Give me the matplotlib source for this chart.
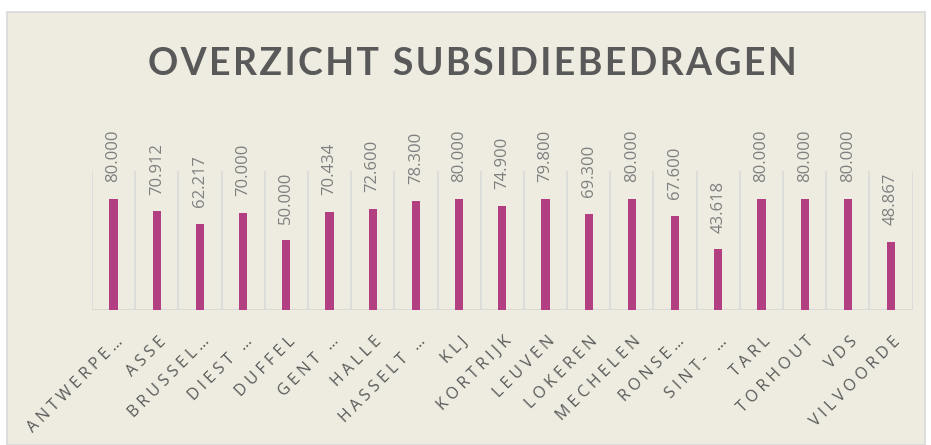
import matplotlib
matplotlib.use('Agg')
import matplotlib.pyplot as plt
from matplotlib.patches import Rectangle
from matplotlib import transforms

# data
categories = ['ANTWERPE…', 'ASSE', 'BRUSSEL…', 'DIEST …', 'DUFFEL', 'GENT …',
              'HALLE', 'HASSELT …', 'KLJ', 'KORTRIJK', 'LEUVEN', 'LOKEREN',
              'MECHELEN', 'RONSE…', 'SINT- …', 'TARL', 'TORHOUT', 'VDS', 'VILVOORDE']
bedragen = [80000, 70912, 62217, 70000, 50000, 70434, 72600, 78300, 80000, 74900,
            79800, 69300, 80000, 67600, 43618, 80000, 80000, 80000, 48867]
y_max = 100000

BG = '#EEECE1'
BAR = '#B13F82'
GRID = '#D9D9D9'
plt.rcParams['font.family'] = ['Open Sans', 'DejaVu Sans']


def spaced(s, sep='\u200a'):
    # letter spacing zoals in de Excel-grafiek
    return sep.join(s)


def nl_fmt(v):
    return f'{v:,.0f}'.replace(',', '.')


W, H = 931, 445
fig = plt.figure(figsize=(W / 100, H / 100), dpi=100, facecolor='white')
panel = Rectangle((7 / W, 0), 918 / W, (H - 12) / H, transform=fig.transFigure,
                  facecolor=BG, edgecolor=GRID, lw=1.2, zorder=-10)
fig.add_artist(panel)

ax = fig.add_axes([92 / W, (H - 310) / H, 820.6 / W, 139 / H])
ax.set_facecolor('none')
ax.set_zorder(5)
x = list(range(len(categories)))
ax.bar(x, bedragen, width=0.19, color=BAR, zorder=3)
ax.vlines([i - 0.5 for i in range(len(categories) + 1)], 0, y_max, colors=GRID, lw=1.2, zorder=1)
ax.axhline(0, color=GRID, lw=1.5, zorder=2)
ax.set_xlim(-0.5, len(categories) - 0.5)
ax.set_ylim(0, y_max)
for s in ax.spines.values():
    s.set_visible(False)
ax.set_yticks([])
ax.set_xticks([])

# data labels
off = transforms.offset_copy(ax.transData, fig=fig, x=0, y=12, units='points')
for i, v in enumerate(bedragen):
    ax.text(i, v, nl_fmt(v), transform=off, rotation=90, ha='center', va='bottom',
            fontsize=12, color='#7F7F7F', clip_on=False)

# category labels
t = transforms.offset_copy(ax.get_xaxis_transform(), fig=fig, x=5, y=-21, units='points')
for i, c in enumerate(categories):
    ax.text(i, 0, spaced(c, ' '), transform=t, rotation=45, rotation_mode='anchor',
            ha='right', va='center', fontsize=11.5, color='#595959', clip_on=False)

fig.text(472 / W, 1 - 75 / H, spaced('OVERZICHT SUBSIDIEBEDRAGEN'), ha='center', va='baseline',
         fontsize=27, fontweight='bold', color='#595959', family=['Lato', 'DejaVu Sans'])

fig.savefig('out.png', dpi=100, facecolor='white')
